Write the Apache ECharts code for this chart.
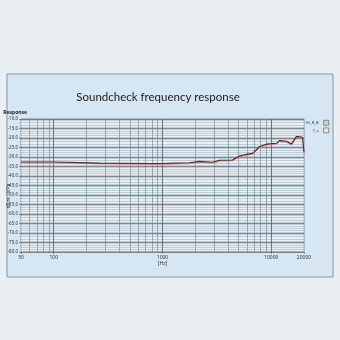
<!DOCTYPE html>
<html><head><meta charset="utf-8">
<script src="https://cdn.jsdelivr.net/npm/echarts@6/dist/echarts.min.js"></script>
<style>html,body{margin:0;padding:0;background:#e9eff3;}#c{width:340px;height:340px;}</style>
</head><body><div id="c"></div>
<script>
const freqs = [50,100,265,762,1000,1294,1776,2193,2887,3349,4400,5100,5920,6720,7800,9040,11170,11900,13770,15320,17000,18200,19400,20000];
const responseA = [-32.6,-32.6,-33.2,-33.4,-33.4,-33.2,-33.0,-32.3,-32.8,-31.7,-31.6,-29.5,-28.6,-28.1,-24.6,-23.2,-22.8,-21.4,-21.7,-23.2,-19.3,-19.3,-19.6,-27.5];
const responseB = [-33.1,-33.1,-33.6,-33.9,-33.9,-33.7,-33.5,-32.8,-33.2,-32.2,-32.0,-30.0,-29.1,-28.5,-25.1,-23.7,-23.2,-21.9,-22.2,-23.6,-19.8,-19.6,-20.0,-28.0];
const seriesNames = ['Kt_R_B','1_c'];
const xTickLabels = [50,100,1000,10000,20000];
const minorFreqs = [60,70,80,90,200,300,400,500,600,700,800,900,2000,3000,4000,5000,6000,7000,8000,9000];
const decadeFreqs = [100,1000,10000];
const yMin = -80, yMax = -10, yStep = 5;

const chart = echarts.init(document.getElementById('c'));
const lineFont = 'Noto Sans';
chart.setOption({
  animation:false,
  backgroundColor:'#e9eff3',
  graphic:[
    {type:'rect', z:-10, shape:{x:7,y:74,width:326,height:203}, style:{fill:'#d6e6f3', stroke:'#8797a6', lineWidth:1}},
    {type:'text', x:158, y:97, style:{text:'Soundcheck frequency response', font:'11.5px Lato', fill:'#1a1a1a', align:'center', verticalAlign:'middle'}},
    {type:'text', x:9, y:196, rotation:Math.PI/2, style:{text:'dB re 1V/Pa', font:'4.5px "Noto Sans"', fill:'#333', align:'center', verticalAlign:'middle'}}
  ],
  legend:{
    right:6, top:115, orient:'vertical', align:'right', itemWidth:5, itemHeight:5, itemGap:2,
    textStyle:{fontSize:4, color:'#333', fontFamily:lineFont},
    data:seriesNames.map(n=>({name:n, icon:'rect'})),
    itemStyle:{borderColor:'#555', borderWidth:0.6}
  },
  grid:{left:21, top:119, width:283, height:133, show:true, backgroundColor:'#bfcdd6', borderColor:'#6d7c87', borderWidth:0.8},
  xAxis:{
    type:'log', logBase:10, min:50, max:20000,
    name:'[Hz]', nameLocation:'middle', nameGap:9, nameTextStyle:{fontSize:5, color:'#333', fontFamily:lineFont},
    axisLine:{show:false},
    axisTick:{show:true, length:2, lineStyle:{color:'#555', width:0.6}, customValues:xTickLabels},
    axisLabel:{fontSize:5, color:'#333', margin:3, fontFamily:lineFont, customValues:xTickLabels, formatter:v=>String(Math.round(v))},
    splitLine:{show:false}
  },
  yAxis:{
    type:'value', min:yMin, max:yMax, interval:yStep,
    name:'Response', nameLocation:'end', nameGap:4,
    nameTextStyle:{fontSize:5, fontWeight:'bold', color:'#222', align:'right', padding:[0,-6,0,0], fontFamily:lineFont},
    axisLine:{show:false},
    axisTick:{show:true, length:2, lineStyle:{color:'#555', width:0.6}},
    axisLabel:{fontSize:4.5, color:'#333', margin:3, fontFamily:lineFont, formatter:v=>v.toFixed(1)},
    splitLine:{show:true, lineStyle:{color:'#5e6d78', width:0.7}},
    minorTick:{show:false, splitNumber:5},
    minorSplitLine:{show:true, lineStyle:{color:'#f4f8fa', width:0.8}}
  },
  series:[
    {
      name:seriesNames[1], type:'line', symbol:'none', z:3,
      data:freqs.map((f,i)=>[f,responseB[i]]),
      lineStyle:{color:'#d58a92', width:1}, itemStyle:{color:'#e9e3e8'},
      markLine:{
        silent:true, symbol:'none', label:{show:false}, z:1,
        lineStyle:{color:'#6f7f8a', width:0.6, type:'solid'},
        data:minorFreqs.map(f=>({xAxis:f})).concat(decadeFreqs.map(f=>({xAxis:f, lineStyle:{color:'#4f5d67', width:0.8, type:'solid'}})))
      }
    },
    {
      name:seriesNames[0], type:'line', symbol:'none', z:4,
      data:freqs.map((f,i)=>[f,responseA[i]]),
      lineStyle:{color:'#5c2426', width:1.1}, itemStyle:{color:'#c9d9c9'}
    }
  ]
});
</script></body></html>
